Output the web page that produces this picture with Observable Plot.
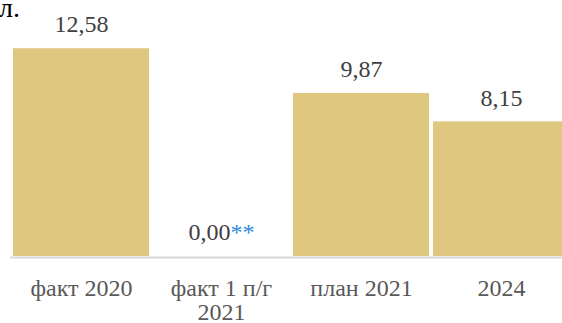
<!DOCTYPE html>
<html>
<head>
<meta charset="utf-8">
<script src="https://cdn.jsdelivr.net/npm/d3@7"></script>
<script src="https://cdn.jsdelivr.net/npm/@observablehq/plot@0.6"></script>
<style>
.unit { font-family: 'Liberation Serif', serif; font-size: 28px; line-height: 1.15; color: #000; position: absolute; left: -1px; top: -8px; }
</style>
</head>
<body style="margin:0">
<div class="unit">л.</div>
<div id="chart"></div>
<script>
const categories = ["факт 2020", "факт 1 п/г\n2021", "план 2021", "2024"];
const values = [12.58, 0.00, 9.87, 8.15];
const valueLabels = ["12,58", "0,00", "9,87", "8,15"];
const footnoteMarks = ["", "**", "", ""];

const data = categories.map((c, i) => ({cat: c, value: values[i], label: valueLabels[i], note: footnoteMarks[i]}));
const ff = "Liberation Serif";

const chart = Plot.plot({
  width: 562,
  height: 323,
  marginTop: 0,
  marginBottom: 67,
  marginLeft: 10,
  marginRight: 0,
  x: {domain: categories, range: [12, 569.5], paddingInner: 0.032, paddingOuter: 0, axis: null},
  y: {domain: [0, 15.5], axis: null},
  marks: [
    Plot.barY(data, {x: "cat", y: "value", fill: "#dfc780"}),
    Plot.ruleY([0], {stroke: "#d9d9d9", strokeWidth: 2, dy: 1}),
    Plot.text(data.filter(d => !d.note), {x: "cat", y: "value", text: "label", dy: -24, fontSize: 24, fontFamily: ff, fill: "#404040"}),
    Plot.text(data.filter(d => d.note), {x: "cat", y: "value", text: "label", dy: -24, dx: 9, textAnchor: "end", fontSize: 24, fontFamily: ff, fill: "#404040"}),
    Plot.text(data.filter(d => d.note), {x: "cat", y: "value", text: "note", dy: -24, dx: 9, textAnchor: "start", fontSize: 24, fontFamily: ff, fill: "#2e8ad8"}),
    Plot.text(data, {x: "cat", text: "cat", frameAnchor: "bottom", lineAnchor: "top", dy: 22, lineHeight: 1.0, fontSize: 24, fontFamily: ff, fill: "#595959"})
  ]
});
document.getElementById("chart").appendChild(chart);
</script>
</body>
</html>
